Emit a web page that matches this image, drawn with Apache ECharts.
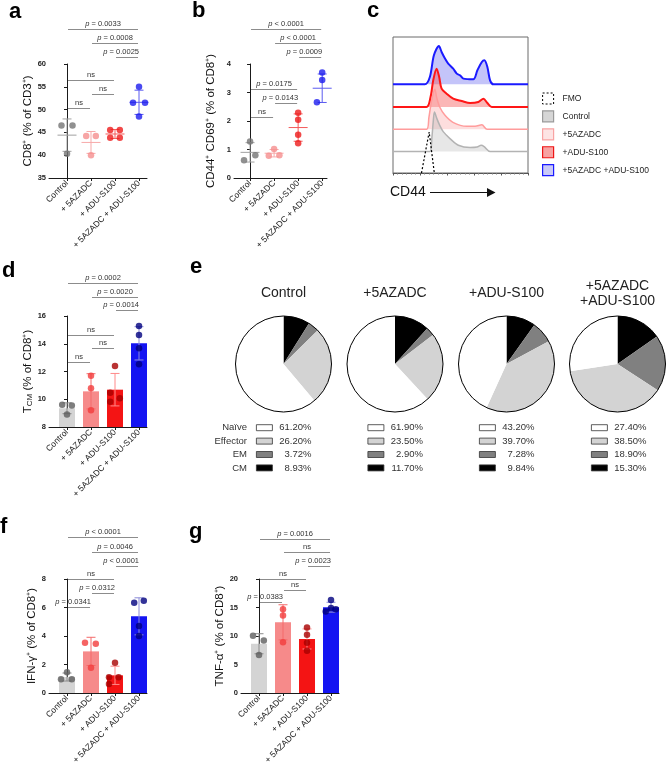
<!DOCTYPE html>
<html><head><meta charset="utf-8">
<script src="https://cdn.jsdelivr.net/npm/echarts@6/dist/echarts.min.js"></script>
<style>html,body{margin:0;padding:0;background:#fff}#c{width:667px;height:764px}</style>
</head><body><div id="c"></div>
<script>
// ---------- DATA ----------
const groups = ['Control', '+ 5AZADC', '+ ADU-S100', '+ 5AZADC + ADU-S100'];

// a: CD8+ (% of CD3+)
const aPoints = [[46.5, 46.5, 40.3], [44.2, 44.2, 40.0], [45.5, 45.5, 43.8, 43.8], [55.0, 51.5, 51.5, 48.5]];
const aMean = [44.4, 42.8, 44.65, 51.6];
const aSD = [3.55, 2.4, 0.98, 2.66];
const aBrackets = [[0, 3, 67.7, 'p = 0.0033'], [1, 3, 64.6, 'p = 0.0008'], [2, 3, 61.5, 'p = 0.0025'],
                   [0, 2, 56.5, 'ns'], [1, 2, 53.4, 'ns'], [0, 1, 50.4, 'ns']];

// b: CD44+ CD69+ (% of CD8+)
const bPoints = [[1.28, 0.8, 0.62], [1.02, 0.78, 0.8], [2.29, 2.04, 1.52, 1.22], [3.7, 3.44, 2.78, 2.66]];
const bMean = [0.9, 0.87, 1.77, 3.15];
const bSD = [0.34, 0.13, 0.48, 0.5];
const bBrackets = [[0, 3, 5.23, 'p < 0.0001'], [1, 3, 4.74, 'p < 0.0001'], [2, 3, 4.25, 'p = 0.0009'],
                   [0, 2, 3.12, 'p = 0.0175'], [1, 2, 2.63, 'p = 0.0143'], [0, 1, 2.14, 'ns']];

// c: CD44 histograms  [position, height]
const cNames = ['FMO', 'Control', '+5AZADC', '+ADU-S100', '+5AZADC +ADU-S100'];
const cFMO = [[21.1, 0], [26.8, 41], [30.6, 0]];
const cControl = [[0, 0], [27.3, 0], [28.8, 14], [29.8, 30], [30.7, 39.6], [32.5, 33], [34.7, 26], [37.2, 20], [42.2, 13], [48.4, 6.3], [57.1, 4], [62.3, 4.5], [65.3, 6.3], [67.5, 5], [72, 0], [100, 0]];
const cAza = [[0, 0], [24.9, 0], [26.6, 12], [28.8, 30], [31.0, 40], [32.3, 32], [34.7, 22], [38.5, 14], [44.4, 7], [54.6, 3], [60.8, 3], [65.8, 4.5], [69.7, 0], [100, 0]];
const cAdu = [[0, 0], [24.8, 0], [27.8, 10], [29.8, 26.7], [32.3, 38.3], [34.2, 30], [36.0, 18.3], [39.7, 13.3], [44.6, 8.3], [50.9, 6], [57.1, 4], [63.2, 5], [67.0, 8.3], [69.9, 4], [73.2, 0], [100, 0]];
const cCombo = [[0, 0], [23.6, 0], [27.3, 7.3], [30.3, 29], [34.0, 38.3], [36.0, 32.3], [38.5, 25.7], [40.9, 20.7], [44.6, 15.7], [47.2, 10.7], [49.6, 9], [52.1, 5.7], [59.5, 5], [62.5, 14], [65.8, 22.3], [67.7, 24], [69.9, 17.3], [71.9, 4], [74.4, 0], [100, 0]];

// d: TCM (% of CD8+)
const dPoints = [[9.6, 9.55, 8.9], [11.7, 10.8, 9.2], [12.4, 10.47, 10.07, 9.82], [15.28, 14.63, 13.67, 12.52]];
const dMean = [9.35, 10.57, 10.69, 14.03];
const dSD = [0.39, 1.27, 1.17, 1.2];
const dBrackets = [[0, 3, 18.38, 'p = 0.0002'], [1, 3, 17.37, 'p = 0.0020'], [2, 3, 16.43, 'p = 0.0014'],
                   [0, 2, 14.63, 'ns'], [1, 2, 13.69, 'ns'], [0, 1, 12.68, 'ns']];

// e: pies
const pieTitles = ['Control', '+5AZADC', '+ADU-S100', '+5AZADC\n+ADU-S100'];
const subsets = ['Naïve', 'Effector', 'EM', 'CM'];
const pieNaive = [61.2, 61.9, 43.2, 27.4];
const pieEffector = [26.2, 23.5, 39.7, 38.5];
const pieEM = [3.72, 2.9, 7.28, 18.9];
const pieCM = [8.93, 11.7, 9.84, 15.3];

// f: IFN-g+ (% of CD8+)
const fPoints = [[1.45, 0.96, 0.96], [3.53, 3.45, 1.78], [2.13, 1.1, 1.1, 0.63], [6.34, 6.48, 4.7, 4.0]];
const fMean = [1.12, 2.92, 1.24, 5.38];
const fSD = [0.28, 0.99, 0.64, 1.3];
const fBrackets = [[0, 3, 10.93, 'p < 0.0001'], [1, 3, 9.92, 'p = 0.0046'], [2, 3, 8.93, 'p < 0.0001'],
                   [0, 2, 8.0, 'ns'], [1, 2, 7.0, 'p = 0.0312'], [0, 1, 6.03, 'p = 0.0341']];

// g: TNF-a+ (% of CD8+)
const gPoints = [[10.06, 9.2, 6.67], [14.7, 13.6, 8.9], [11.5, 10.2, 8.8, 7.4], [16.3, 14.3, 14.9, 14.7]];
const gMean = [8.64, 12.4, 9.48, 15.05];
const gSD = [1.76, 3.08, 1.76, 0.87];
const gBrackets = [[0, 3, 27.1, 'p = 0.0016'], [1, 3, 24.8, 'ns'], [2, 3, 22.3, 'p = 0.0023'],
                   [0, 2, 19.95, 'ns'], [1, 2, 18.07, 'ns'], [0, 1, 15.96, 'p = 0.0383']];

// ---------- LAYOUT / STYLE ----------
const FONT = '"Liberation Sans", Arial, Helvetica, sans-serif';
const aJit = [[-0.23, 0.23, 0], [-0.2, 0.2, 0], [-0.2, 0.2, -0.2, 0.2], [0, -0.25, 0.25, 0]];
const bJit = [[0, 0.22, -0.25], [0, -0.22, 0.22], [0, 0, 0, 0], [0, 0, 0.22, -0.22]];
const dJit = [[-0.2, 0.2, 0], [0, 0, 0], [0, -0.2, 0.2, -0.2], [0, 0, 0, 0]];
const fJit = [[0, -0.25, 0.2], [-0.25, 0.2, 0], [0, -0.25, 0.15, -0.25], [-0.2, 0.2, 0, 0]];
const gJit = [[-0.25, 0.2, 0], [0, 0, 0], [0, 0, 0, 0], [0, -0.22, 0, 0.2]];

const dotLight = ['#747474', '#f58f8f', '#ee1c1c', '#1c1cee'];
const errLight = ['#a0a0a0', '#f7a9a9', '#f45a5a', '#5a5af0'];
const barCol = ['#d4d4d4', '#f68a8a', '#f41414', '#1414f2'];
const dotDark = ['#5e5e5e', '#f23c3c', '#a80000', '#00007e'];
const errDark = ['#8c8c8c', '#f46a6a', '#ff8a8a', '#8a8ad8'];

const cv = document.createElement('canvas').getContext('2d');
function measure(t) { cv.font = '7.5px ' + FONT; return cv.measureText(t).width; }

const grid = [], xAxis = [], yAxis = [], series = [];

function addPlot(gi, left, top, height, yMin, yMax, yInt, name, nameGap) {
  grid.push({ left: left, top: top, width: 98, height: height, containLabel: false, outerBoundsMode: 'none' });
  xAxis.push({
    type: 'value', gridIndex: gi, min: -0.75, max: 3.333,
    axisLine: { show: true, onZero: false, lineStyle: { color: '#1a1a1a', width: 1 } },
    axisTick: { show: true, customValues: [0, 1, 2, 3], length: 3, lineStyle: { color: '#1a1a1a' } },
    axisLabel: { customValues: [0, 1, 2, 3], rotate: 45, fontSize: 8.5, color: '#222', margin: 4, fontFamily: FONT,
                 formatter: v => groups[Math.round(v)] },
    splitLine: { show: false }
  });
  yAxis.push({
    type: 'value', gridIndex: gi, min: yMin, max: yMax, interval: yInt,
    axisLine: { show: true, lineStyle: { color: '#1a1a1a', width: 1 } },
    axisTick: { show: true, length: 3, lineStyle: { color: '#1a1a1a' } },
    axisLabel: { fontSize: 7.5, fontWeight: 'bold', color: '#222', margin: 3, fontFamily: FONT },
    splitLine: { show: false },
    name: name, nameLocation: 'middle', nameRotate: 90, nameGap: nameGap,
    nameTextStyle: { fontSize: 11.5, color: '#111', fontFamily: FONT,
                     rich: { sub: { fontSize: 8, verticalAlign: 'bottom', fontFamily: FONT, color: '#111' } } }
  });
}

function dotSeries(gi, pts, jit, colors) {
  const data = [];
  pts.forEach((arr, i) => arr.forEach((v, k) => data.push({ value: [i + jit[i][k], v], itemStyle: { color: colors[i] } })));
  return { type: 'scatter', xAxisIndex: gi, yAxisIndex: gi, z: 4, symbolSize: 6.5, silent: true, data: data };
}
function barSeries(gi, mean, colors) {
  return { type: 'bar', xAxisIndex: gi, yAxisIndex: gi, z: 2, barWidth: 16, silent: true,
           data: mean.map((m, i) => ({ value: [i, m], itemStyle: { color: colors[i] } })) };
}
function errSeries(gi, mean, sd, colors, meanW, capW) {
  return {
    type: 'custom', xAxisIndex: gi, yAxisIndex: gi, z: 3, silent: true, clip: false,
    data: mean.map((m, i) => [i, m, sd[i]]), encode: { x: 0, y: 1 },
    renderItem: function (params, api) {
      const i = api.value(0), m = api.value(1), s = api.value(2);
      const c = api.coord([i, m]), t = api.coord([i, m + s]), b = api.coord([i, m - s]);
      const st = { stroke: colors[i], lineWidth: 1 };
      const ch = [
        { type: 'line', shape: { x1: c[0], y1: t[1], x2: c[0], y2: b[1] }, style: st },
        { type: 'line', shape: { x1: c[0] - capW / 2, y1: t[1], x2: c[0] + capW / 2, y2: t[1] }, style: st },
        { type: 'line', shape: { x1: c[0] - capW / 2, y1: b[1], x2: c[0] + capW / 2, y2: b[1] }, style: st }
      ];
      if (meanW) ch.push({ type: 'line', shape: { x1: c[0] - meanW / 2, y1: c[1], x2: c[0] + meanW / 2, y2: c[1] }, style: st });
      return { type: 'group', children: ch };
    }
  };
}
function bracketSeries(gi, br) {
  return {
    type: 'custom', xAxisIndex: gi, yAxisIndex: gi, z: 6, silent: true, clip: false,
    data: br.map(b => [b[0], b[1], b[2]]), encode: { x: [0, 1], y: 2 },
    renderItem: function (params, api) {
      const b = br[params.dataIndex];
      const p0 = api.coord([b[0], b[2]]), p1 = api.coord([b[1], b[2]]);
      const w = measure(b[3]);
      const len = p1[0] - p0[0];
      let tx, align;
      if (w > len - 4) { tx = p1[0]; align = 'right'; } else { tx = (p0[0] + p1[0]) / 2; align = 'center'; }
      const isP = b[3].charAt(0) === 'p';
      const y = Math.round(p0[1]) + 0.5;
      return { type: 'group', children: [
        { type: 'line', shape: { x1: p0[0] + 1, y1: y, x2: p1[0] - 1, y2: y }, style: { stroke: '#8c8c8c', lineWidth: 1 } },
        { type: 'text', x: tx, y: y - 1.5, style: {
            text: isP ? '{i|p}' + b[3].slice(1) : b[3],
            rich: { i: { fontStyle: 'italic', fontSize: 7.5, fontFamily: FONT, fill: '#333' } },
            align: align, verticalAlign: 'bottom', fontSize: 7.5, fontFamily: FONT, fill: '#333' } }
      ] };
    }
  };
}

// panel a (0)
addPlot(0, 49, 64, 114, 35, 60, 5, 'CD8⁺ (% of CD3⁺)', 15);
series.push(errSeries(0, aMean, aSD, errLight, 19, 9), dotSeries(0, aPoints, aJit, dotLight), bracketSeries(0, aBrackets));
// panel b (1)
addPlot(1, 234, 64, 114, 0, 4, 1, 'CD44⁺ CD69⁺ (% of CD8⁺)', 17);
xAxis[1].min = -0.667; xAxis[1].max = 3.2;
grid[1].width = 93;
series.push(errSeries(1, bMean, bSD, errLight, 19, 9), dotSeries(1, bPoints, bJit, dotLight), bracketSeries(1, bBrackets));
// panel d (2)
addPlot(2, 49, 316, 111, 8, 16, 2, 'T{sub|CM} (% of CD8⁺)', 15);
series.push(barSeries(2, dMean, barCol), errSeries(2, dMean, dSD, errDark, 0, 9), dotSeries(2, dPoints, dJit, dotDark), bracketSeries(2, dBrackets));
// panel f (3)
addPlot(3, 49, 579, 114, 0, 8, 2, 'IFN-γ⁺ (% of CD8⁺)', 11);
series.push(barSeries(3, fMean, barCol), errSeries(3, fMean, fSD, errDark, 0, 9), dotSeries(3, fPoints, fJit, dotDark), bracketSeries(3, fBrackets));
// panel g (4)
addPlot(4, 241, 579, 114, 0, 20, 5, 'TNF-α⁺ (% of CD8⁺)', 15);
series.push(barSeries(4, gMean, barCol), errSeries(4, gMean, gSD, errDark, 0, 9), dotSeries(4, gPoints, gJit, dotDark), bracketSeries(4, gBrackets));

// panel c (5): histogram overlay
const cOffsets = [0, 21.4, 43.7, 66, 88.7];
grid.push({ left: 393, top: 37, width: 135, height: 136, show: true, borderColor: '#6a6a6a', borderWidth: 1,
            backgroundColor: 'transparent', containLabel: false, outerBoundsMode: 'none' });
xAxis.push({ type: 'value', gridIndex: 5, min: 0, max: 100, interval: 20,
             axisLine: { show: true, onZero: false, lineStyle: { color: '#555' } },
             axisTick: { show: true, length: 2.5, lineStyle: { color: '#555' } },
             minorTick: { show: true, splitNumber: 6, length: 1.5, lineStyle: { color: '#777' } },
             axisLabel: { show: false }, splitLine: { show: false } });
yAxis.push({ type: 'value', gridIndex: 5, min: 0, max: 136, axisLine: { show: false }, axisTick: { show: false },
             axisLabel: { show: false }, splitLine: { show: false } });
const cCurves = [cCombo, cAdu, cAza, cControl];
const cLine = ['#1a1aff', '#ff1616', '#ff9c9c', '#b3b3b3'];
const cFill = ['rgba(70,70,235,0.32)', 'rgba(245,80,80,0.42)', 'rgba(250,160,160,0.35)', 'rgba(175,175,175,0.3)'];
const cW = [2, 2, 1.5, 1.5];
const cNm = [cNames[4], cNames[3], cNames[2], cNames[1]];
const cOff = [cOffsets[4], cOffsets[3], cOffsets[2], cOffsets[1]];
cCurves.forEach((cur, k) => {
  series.push({ type: 'line', name: cNm[k], xAxisIndex: 5, yAxisIndex: 5, z: 2 + k, silent: true,
    smooth: 0.3, showSymbol: false, symbol: 'none', color: cLine[k],
    lineStyle: { color: cLine[k], width: cW[k] },
    areaStyle: { color: cFill[k], origin: cOff[k], opacity: 1 },
    data: cur.map(p => [p[0], cOff[k] + p[1]]) });
});
series.push({ type: 'line', name: 'FMO', xAxisIndex: 5, yAxisIndex: 5, z: 8, silent: true, showSymbol: false, symbol: 'none',
  color: '#000', lineStyle: { color: '#000', width: 1.2, type: [2, 2] }, data: cFMO.map(p => [p[0], cOffsets[0] + p[1]]) });

// pies
const pieCx = [283.5, 395, 506.5, 617.5];
const pieCy = 364;
const pieColors = { 'Naïve': '#ffffff', 'Effector': '#d3d3d3', 'EM': '#808080', 'CM': '#000000' };
const pieVals = { 'Naïve': pieNaive, 'Effector': pieEffector, 'EM': pieEM, 'CM': pieCM };
pieTitles.forEach((t, i) => {
  series.push({ type: 'pie', center: [pieCx[i], pieCy], radius: 48, startAngle: 90, clockwise: true, silent: true,
    label: { show: false }, labelLine: { show: false }, itemStyle: { borderWidth: 0 }, emphasis: { disabled: true },
    data: ['CM', 'EM', 'Effector', 'Naïve'].map(n => ({ name: n, value: pieVals[n][i], itemStyle: { color: pieColors[n], borderWidth: 0 } })) });
  series.push({ type: 'pie', center: [pieCx[i], pieCy], radius: 48, silent: true, z: 3,
    label: { show: false }, labelLine: { show: false }, emphasis: { disabled: true },
    data: [{ name: 'ring' + i, value: 1, itemStyle: { color: 'rgba(0,0,0,0)', borderColor: '#000', borderWidth: 1 } }] });
});

const legend = [{
  left: 542, top: 92.5, orient: 'vertical', icon: 'rect', itemWidth: 11, itemHeight: 11, itemGap: 5.75, padding: 0,
  selectedMode: false,
  textStyle: { fontSize: 8.5, color: '#222', fontFamily: FONT, lineHeight: 11, padding: [0, 0, 0, 4] },
  data: [
    { name: 'FMO', itemStyle: { color: '#ffffff', borderColor: '#000', borderWidth: 1, borderType: [2, 2] } },
    { name: 'Control', itemStyle: { color: '#d6d6d6', borderColor: '#9a9a9a', borderWidth: 1.2 } },
    { name: '+5AZADC', itemStyle: { color: '#fde4e4', borderColor: '#f8a3a3', borderWidth: 1.2 } },
    { name: '+ADU-S100', itemStyle: { color: '#f7a3a3', borderColor: '#ee1414', borderWidth: 1.2 } },
    { name: '+5AZADC +ADU-S100', itemStyle: { color: '#c9c9f7', borderColor: '#1a1aff', borderWidth: 1.2 } }
  ]
}];
const legLeft = [256, 367.5, 479, 591];
legLeft.forEach((lx, i) => {
  legend.push({
    left: lx, top: 422.2, orient: 'vertical', icon: 'rect', itemWidth: 16, itemHeight: 6, itemGap: 2.4, padding: 0,
    selectedMode: false,
    itemStyle: { borderColor: '#333', borderWidth: 0.8 },
    textStyle: { fontSize: 9.5, color: '#333', fontFamily: FONT, lineHeight: 11,
                 rich: { v: { width: 34, align: 'right', fontSize: 9.5, color: '#333', fontFamily: FONT } } },
    formatter: name => '{v|' + pieVals[name][i].toFixed(2) + '%}',
    data: subsets
  });
});

const title = [
  ['a', 9, 1], ['b', 192, 0], ['c', 367, 0], ['d', 2, 260], ['e', 190, 256], ['f', 0, 516], ['g', 189, 521]
].map(t => ({ text: t[0], left: t[1], top: t[2], padding: 0,
              textStyle: { fontSize: 22, fontWeight: 'bold', color: '#000', fontFamily: FONT } }));

const graphic = [];
pieTitles.forEach((t, i) => {
  graphic.push({ type: 'text', x: pieCx[i], y: t.indexOf('\n') >= 0 ? 293.5 : 293, silent: true,
    style: { text: t, align: 'center', verticalAlign: 'middle', fontSize: 14, lineHeight: 15, fill: '#222', fontFamily: FONT } });
});
const rowY = [427.7, 441.1, 454.5, 467.9];
subsets.forEach((s, k) => {
  graphic.push({ type: 'text', x: 247, y: rowY[k], silent: true,
    style: { text: s, align: 'right', verticalAlign: 'middle', fontSize: 9.5, fill: '#333', fontFamily: FONT } });
});
graphic.push({ type: 'text', x: 390, y: 192, silent: true,
  style: { text: 'CD44', align: 'left', verticalAlign: 'middle', fontSize: 14, fill: '#111', fontFamily: FONT } });
graphic.push({ type: 'line', silent: true, shape: { x1: 430, y1: 192.5, x2: 489, y2: 192.5 }, style: { stroke: '#111', lineWidth: 1.2 } });
graphic.push({ type: 'polygon', silent: true, shape: { points: [[487, 188], [495.5, 192.5], [487, 197]] }, style: { fill: '#111' } });

const chart = echarts.init(document.getElementById('c'), null, { renderer: 'canvas' });
chart.setOption({
  backgroundColor: '#ffffff', animation: false,
  textStyle: { fontFamily: FONT },
  title: title, grid: grid, xAxis: xAxis, yAxis: yAxis, legend: legend, graphic: graphic, series: series
});
</script></body></html>
